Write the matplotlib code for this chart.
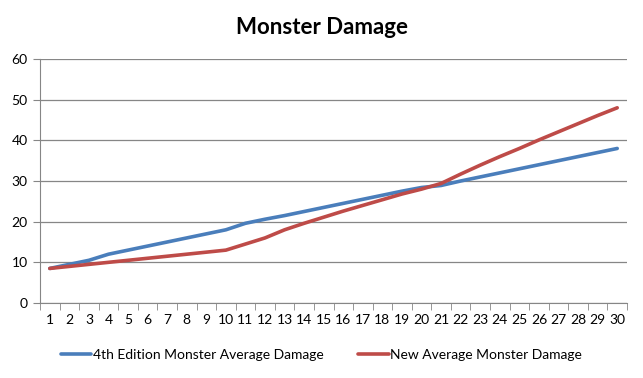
import numpy as np
import matplotlib.pyplot as plt

levels = list(range(1, 31))
fourth_ed = [8.5, 9.5, 10.5, 12, 13, 14, 15, 16, 17, 18,
             19.6, 20.6, 21.5, 22.5, 23.5, 24.5, 25.5, 26.5, 27.5, 28.4,
             28.9, 30, 31, 32, 33, 34, 35, 36, 37, 38]
new_avg = [8.5, 9, 9.5, 10, 10.5, 11, 11.5, 12, 12.5, 13,
           14.5, 16, 18, 19.6, 21.1, 22.6, 24, 25.4, 26.8, 28,
           29.4, 31.7, 33.9, 36, 38, 40.1, 42.1, 44.1, 46.1, 48]

plt.rcParams['font.family'] = ['Lato', 'DejaVu Sans']

fig = plt.figure(figsize=(6.43, 3.78), dpi=100)
ax = fig.add_axes([40 / 643, 1 - 303 / 378, 587 / 643, 244 / 378])

ax.plot(levels, fourth_ed, color='#4A7EBB', lw=2.6, label='4th Edition Monster Average Damage',
        solid_capstyle='round')
ax.plot(levels, new_avg, color='#BE4B48', lw=2.6, label='New Average Monster Damage',
        solid_capstyle='round')

ax.set_xlim(0.5, 30.5)
ax.set_ylim(0, 60)
ax.set_yticks(range(0, 61, 10))
ax.set_xticks(levels)
ax.set_xticks(np.arange(0.5, 31, 1), minor=True)
ax.tick_params(axis='x', which='major', length=0, labelsize=10, pad=8)
ax.tick_params(axis='x', which='minor', length=5, color='#868686', direction='out')
ax.tick_params(axis='y', length=5, color='#868686', labelsize=10, pad=4)
ax.grid(axis='y', color='#868686', lw=0.9)
ax.set_axisbelow(True)
for s in ['top', 'right']:
    ax.spines[s].set_visible(False)
for s in ['left', 'bottom']:
    ax.spines[s].set_color('#868686')

fig.text(0.5, 1 - 27 / 378, 'Monster Damage', ha='center', va='center',
         fontsize=16, fontweight='bold')
fig.legend(loc='center', bbox_to_anchor=(0.5, 1 - 355 / 378), ncol=2, frameon=False,
           fontsize=10, handlelength=2.2, handletextpad=0.1, columnspacing=2.5)

fig.savefig('out.png', dpi=100)
